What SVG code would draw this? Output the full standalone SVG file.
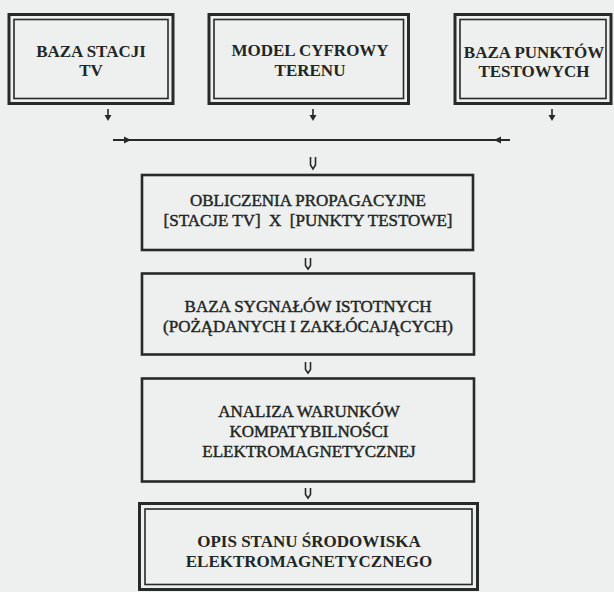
<svg xmlns="http://www.w3.org/2000/svg" width="614" height="592" viewBox="0 0 614 592">
<style>
.bg{fill:#eef0ef}
.outer{fill:none;stroke:#262a28;stroke-width:3}
.inner{fill:none;stroke:#262a28;stroke-width:1.6}
.single{fill:none;stroke:#262a28;stroke-width:2.6}
.tb{font-family:"Liberation Serif","Times New Roman",serif;font-size:17px;font-weight:bold;fill:#222624;text-anchor:middle}
.tn{font-family:"Liberation Serif","Times New Roman",serif;font-size:17px;font-weight:normal;fill:#222624;stroke:#222624;stroke-width:0.45;text-anchor:middle;white-space:pre}
.ln{fill:none;stroke:#262a28;stroke-width:1.6}
.hd{fill:#262a28;stroke:none}
</style>
<rect class="bg" x="0" y="0" width="614" height="592"/>

<g id="node-baza-stacji">
<rect class="outer" x="9" y="14.5" width="164" height="89"/>
<rect class="inner" x="14" y="19.5" width="154" height="79"/>
<text class="tb" x="91" y="57">BAZA STACJI</text>
<text class="tb" x="91" y="76">TV</text>
</g>

<g id="node-model">
<rect class="outer" x="209" y="14.5" width="199.5" height="89"/>
<rect class="inner" x="214" y="19.5" width="189.5" height="79"/>
<text class="tb" x="310" y="56">MODEL CYFROWY</text>
<text class="tb" x="310" y="76">TERENU</text>
</g>

<g id="node-baza-punktow">
<rect class="outer" x="455" y="14.5" width="156" height="89"/>
<rect class="inner" x="460" y="19.5" width="146" height="79"/>
<text class="tb" x="534" y="57.5">BAZA PUNKTÓW</text>
<text class="tb" x="534" y="77">TESTOWYCH</text>
</g>

<g id="node-obliczenia">
<rect class="single" x="142" y="175" width="331" height="75"/>
<text class="tn" x="308" y="206">OBLICZENIA PROPAGACYJNE</text>
<text class="tn" x="308" y="226" xml:space="preserve">[STACJE TV]  X  [PUNKTY TESTOWE]</text>
</g>

<g id="node-sygnaly">
<rect class="single" x="142" y="273.5" width="332" height="81"/>
<text class="tn" x="308" y="312">BAZA SYGNAŁÓW ISTOTNYCH</text>
<text class="tn" x="308" y="332">(POŻĄDANYCH I ZAKŁÓCAJĄCYCH)</text>
</g>

<g id="node-analiza">
<rect class="single" x="142" y="378.5" width="332" height="103"/>
<text class="tn" x="309" y="417">ANALIZA WARUNKÓW</text>
<text class="tn" x="309" y="437">KOMPATYBILNOŚCI</text>
<text class="tn" x="309" y="457">ELEKTROMAGNETYCZNEJ</text>
</g>

<g id="node-opis">
<rect class="outer" x="139.5" y="503.5" width="338" height="86"/>
<rect class="inner" x="145" y="509" width="327" height="75.5"/>
<text class="tb" x="309" y="547">OPIS STANU ŚRODOWISKA</text>
<text class="tb" x="309" y="567">ELEKTROMAGNETYCZNEGO</text>
</g>

<g id="connectors">
<line class="ln" x1="108" y1="109" x2="108" y2="117"/>
<path class="hd" d="M104.5,115 L111.5,115 L108,121 Z"/>
<line class="ln" x1="313" y1="109" x2="313" y2="117"/>
<path class="hd" d="M309.5,115 L316.5,115 L313,121 Z"/>
<line class="ln" x1="552" y1="109" x2="552" y2="117"/>
<path class="hd" d="M548.5,115 L555.5,115 L552,121 Z"/>
<line x1="113" y1="140" x2="510" y2="140" stroke="#262a28" stroke-width="2"/>
<path class="hd" d="M124,136.5 L131,140 L124,143.5 Z"/>
<path class="hd" d="M501,136.5 L494,140 L501,143.5 Z"/>
<path class="ln" d="M310.5,157 V165 L313,169 L315.5,165 V157"/>
<path class="ln" d="M305.5,258 V265.5 L308,269 L310.5,265.5 V258"/>
<path class="ln" d="M305.5,362 V369.5 L308,373 L310.5,369.5 V362"/>
<path class="ln" d="M305.5,488 V494.5 L308,498 L310.5,494.5 V488"/>
</g>
</svg>
